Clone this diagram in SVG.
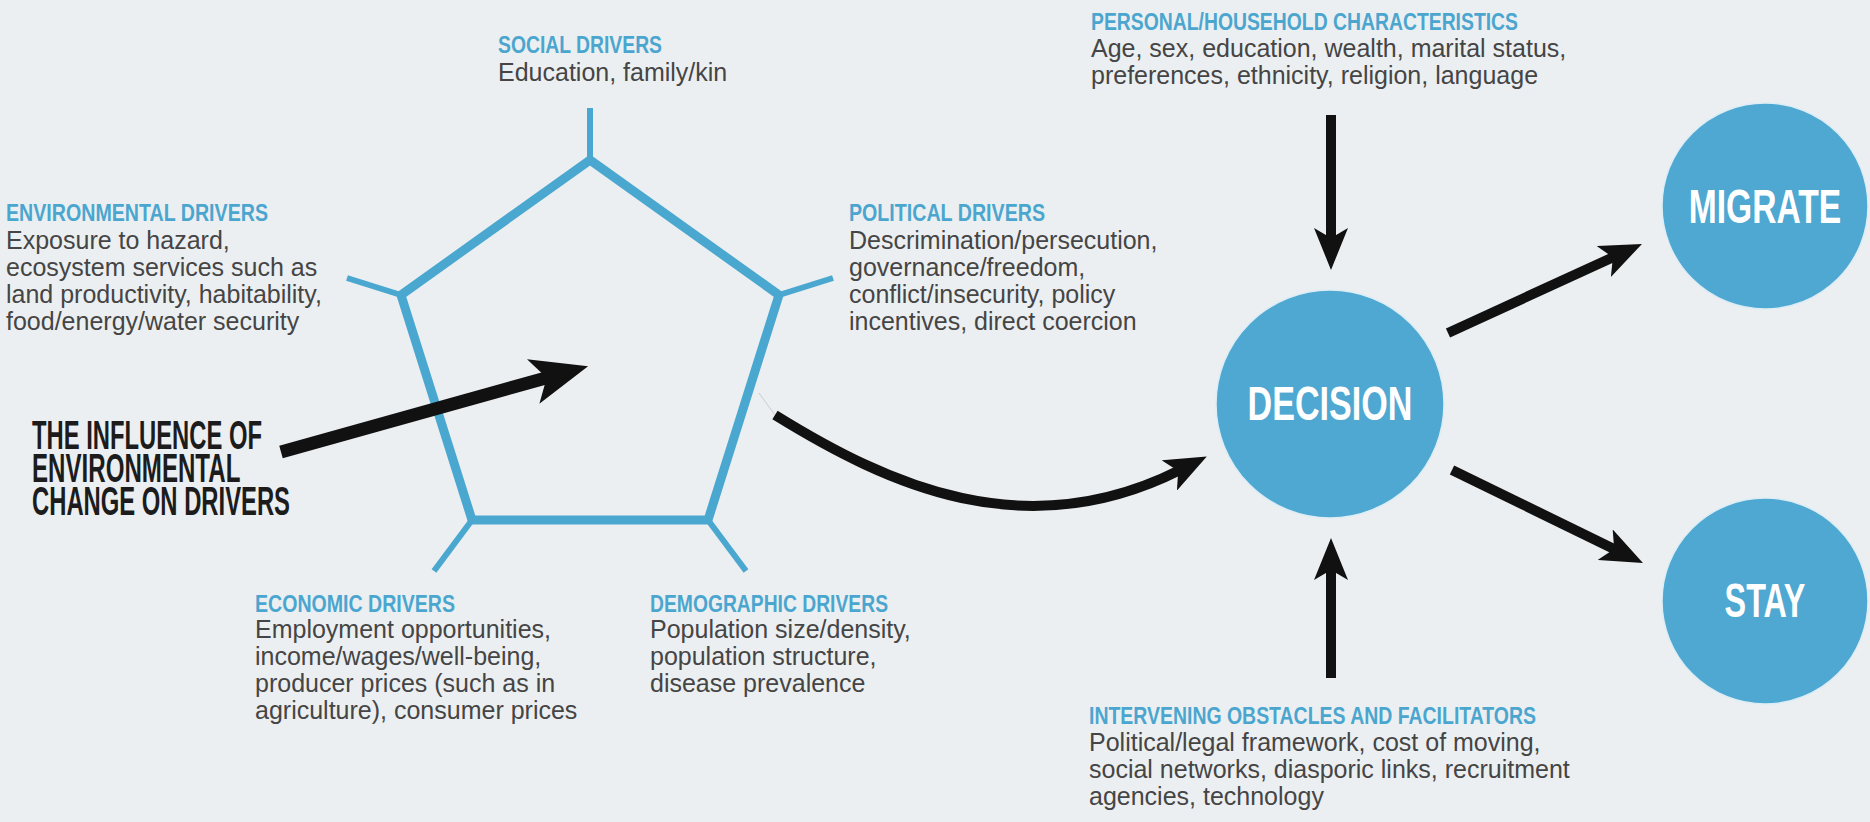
<svg xmlns="http://www.w3.org/2000/svg" width="1870" height="822" viewBox="0 0 1870 822">
  <style>
    .head { font-family: "Liberation Sans", Arial, sans-serif; font-weight: bold; font-size: 24px; fill: #4ba6cf; }
    .body { font-family: "Liberation Sans", Arial, sans-serif; font-size: 25px; fill: #454545; }
    .big { font-family: "Liberation Sans", Arial, sans-serif; font-weight: bold; font-size: 40px; fill: #1c1c1c; }
    .node-label { font-family: "Liberation Sans", Arial, sans-serif; font-weight: bold; font-size: 49px; fill: #ffffff; text-anchor: middle; }
    .ring { fill: #4ea8d2; stroke: #dcedf5; stroke-width: 1.5; }
    .edge { fill: none; stroke: #4aa8d0; stroke-width: 9; stroke-linejoin: miter; }
    .stub { stroke: #4aa8d0; stroke-width: 6; }
    .arrow { fill: none; stroke: #111111; stroke-width: 10; }
  </style>
  <defs>
    <marker id="tip" markerUnits="userSpaceOnUse" viewBox="0 0 42 34" markerWidth="42" markerHeight="34" refX="12" refY="17" orient="auto">
      <path d="M0 0 L42 17 L0 34 L10 17 Z" fill="#111111"/>
    </marker>
    <marker id="tip-lg" markerUnits="userSpaceOnUse" viewBox="0 0 57 46" markerWidth="57" markerHeight="46" refX="16" refY="23" orient="auto">
      <path d="M0 0 L57 23 L0 46 L14 23 Z" fill="#111111"/>
    </marker>
  </defs>

  <rect width="1870" height="822" fill="#eceff1"/>

  <!-- pentagon of drivers -->
  <g id="drivers-pentagon">
    <polygon class="edge" points="590,160 779,295 708,520 472,520 401,295"/>
    <line class="stub" x1="590" y1="160" x2="590" y2="108"/>
    <line class="stub" x1="401" y1="295" x2="347" y2="278"/>
    <line class="stub" x1="779" y1="295" x2="833" y2="278"/>
    <line class="stub" x1="472" y1="520" x2="434" y2="571"/>
    <line class="stub" x1="708" y1="520" x2="746" y2="571"/>
  </g>

  <g id="social-drivers">
    <text class="head" x="498" y="53" textLength="164" lengthAdjust="spacingAndGlyphs">SOCIAL DRIVERS</text>
    <text class="body" x="498" y="81">Education, family/kin</text>
  </g>

  <g id="environmental-drivers">
    <text class="head" x="6" y="221" textLength="262" lengthAdjust="spacingAndGlyphs">ENVIRONMENTAL DRIVERS</text>
    <text class="body" x="6" y="249">Exposure to hazard,</text>
    <text class="body" x="6" y="276">ecosystem services such as</text>
    <text class="body" x="6" y="303">land productivity, habitability,</text>
    <text class="body" x="6" y="330">food/energy/water security</text>
  </g>

  <g id="political-drivers">
    <text class="head" x="849" y="221" textLength="196" lengthAdjust="spacingAndGlyphs">POLITICAL DRIVERS</text>
    <text class="body" x="849" y="249">Descrimination/persecution,</text>
    <text class="body" x="849" y="276">governance/freedom,</text>
    <text class="body" x="849" y="303">conflict/insecurity, policy</text>
    <text class="body" x="849" y="330">incentives, direct coercion</text>
  </g>

  <g id="economic-drivers">
    <text class="head" x="255" y="612" textLength="200" lengthAdjust="spacingAndGlyphs">ECONOMIC DRIVERS</text>
    <text class="body" x="255" y="638">Employment opportunities,</text>
    <text class="body" x="255" y="665">income/wages/well-being,</text>
    <text class="body" x="255" y="692">producer prices (such as in</text>
    <text class="body" x="255" y="719">agriculture), consumer prices</text>
  </g>

  <g id="demographic-drivers">
    <text class="head" x="650" y="612" textLength="238" lengthAdjust="spacingAndGlyphs">DEMOGRAPHIC DRIVERS</text>
    <text class="body" x="650" y="638">Population size/density,</text>
    <text class="body" x="650" y="665">population structure,</text>
    <text class="body" x="650" y="692">disease prevalence</text>
  </g>

  <!-- tightly leaded three-line caption -->
  <g id="environmental-change">
    <text class="big">
      <tspan x="32" y="449" textLength="230" lengthAdjust="spacingAndGlyphs">THE INFLUENCE OF</tspan>
      <tspan x="32" y="482" textLength="208" lengthAdjust="spacingAndGlyphs">ENVIRONMENTAL</tspan>
      <tspan x="32" y="515" textLength="258" lengthAdjust="spacingAndGlyphs">CHANGE ON DRIVERS</tspan>
    </text>
  </g>

  <g id="household-characteristics">
    <text class="head" x="1091" y="30" textLength="427" lengthAdjust="spacingAndGlyphs">PERSONAL/HOUSEHOLD CHARACTERISTICS</text>
    <text class="body" x="1091" y="57">Age, sex, education, wealth, marital status,</text>
    <text class="body" x="1091" y="84">preferences, ethnicity, religion, language</text>
  </g>

  <g id="obstacles-facilitators">
    <text class="head" x="1089" y="724" textLength="447" lengthAdjust="spacingAndGlyphs">INTERVENING OBSTACLES AND FACILITATORS</text>
    <text class="body" x="1089" y="751">Political/legal framework, cost of moving,</text>
    <text class="body" x="1089" y="778">social networks, diasporic links, recruitment</text>
    <text class="body" x="1089" y="805">agencies, technology</text>
  </g>

  <!-- outcome circles; labels condensed horizontally -->
  <g id="decision">
    <circle class="ring" cx="1330" cy="404" r="114"/>
    <text class="node-label" transform="translate(1330 420) scale(0.696 1)">DECISION</text>
  </g>

  <g id="migrate">
    <circle class="ring" cx="1765" cy="206" r="103"/>
    <text class="node-label" transform="translate(1765 223) scale(0.686 1)">MIGRATE</text>
  </g>

  <g id="stay">
    <circle class="ring" cx="1765" cy="601" r="103"/>
    <text class="node-label" transform="translate(1765 617) scale(0.66 1)">STAY</text>
  </g>

  <!-- connectors -->
  <g id="connectors">
    <line x1="281" y1="452" x2="548.6" y2="377.2" stroke="#111111" stroke-width="13" marker-end="url(#tip-lg)"/>
    <line x1="759" y1="393" x2="775" y2="415" stroke="#c9cccf" stroke-width="1"/>
    <path class="arrow" d="M775 415 C888 485 1025 548 1180 470" marker-end="url(#tip)"/>
    <line class="arrow" x1="1331" y1="115" x2="1331" y2="240" stroke-width="8" marker-end="url(#tip)"/>
    <line class="arrow" x1="1331" y1="678" x2="1331" y2="568" stroke-width="8" marker-end="url(#tip)"/>
    <line class="arrow" x1="1448" y1="333" x2="1614.7" y2="256.5" marker-end="url(#tip)"/>
    <line class="arrow" x1="1452" y1="470" x2="1616" y2="549.9" marker-end="url(#tip)"/>
  </g>
</svg>
